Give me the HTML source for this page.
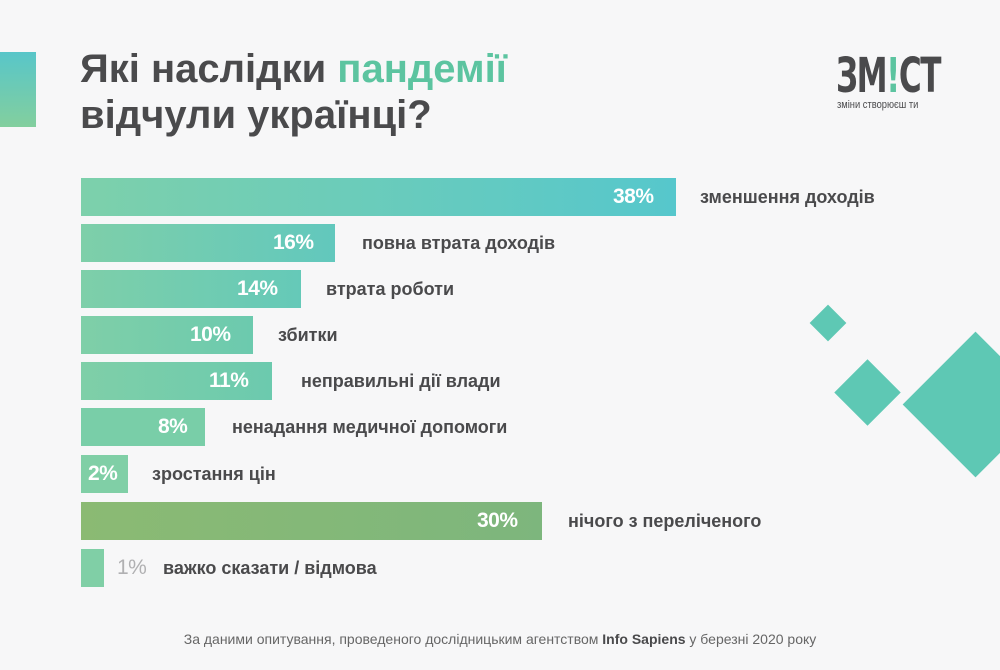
<!DOCTYPE html>
<html><head><meta charset="utf-8"><style>
body{margin:0;width:1000px;height:670px;overflow:hidden;background:#f7f7f8;font-family:"Liberation Sans","DejaVu Sans",sans-serif;position:relative}
.a{position:absolute}
.bar{position:absolute;left:81px;height:38px}
.pct{position:absolute;color:#fff;font-weight:bold;font-size:21px;line-height:38px;letter-spacing:-0.5px}
.lab{position:absolute;color:#4a4a4c;font-weight:bold;font-size:18px;line-height:38px}
.d{position:absolute;background:#5ec8b4;transform:rotate(45deg)}
</style></head><body>
<div class="a" style="left:0;top:52px;width:36px;height:75px;background:linear-gradient(#58c6c9,#83cf9e)"></div>
<div class="a" style="left:80px;top:46px;font-size:40px;font-weight:bold;color:#4a4a4c;line-height:46px">Які наслідки <span style="color:#5cc4a0">пандемії</span><br>відчули українці?</div>
<div class="a" style="left:836px;top:48px;font-size:48px;font-weight:bold;color:#4a4a4c;font-family:'DejaVu Sans Condensed','Liberation Sans Narrow',sans-serif;transform:scaleX(0.72);transform-origin:left;letter-spacing:-2px">ЗМ<span style="color:#5cc4a0">!</span>СТ</div>
<div class="a" style="left:837px;top:99px;font-size:11px;color:#4a4a4c;transform:scaleX(0.85);transform-origin:left">зміни створюєш ти</div>

<div class="d" style="left:815px;top:310px;width:26px;height:26px"></div>
<div class="d" style="left:844px;top:369px;width:47px;height:47px"></div>
<div class="d" style="left:924px;top:353px;width:103px;height:103px"></div>

<div class="bar" style="top:178px;width:595px;background:linear-gradient(90deg,#7dd0ab,#56c7cc)"></div>
<div class="pct" style="top:178px;left:613px">38%</div><div class="lab" style="top:178px;left:700px">зменшення доходів</div>
<div class="bar" style="top:224px;width:254px;background:linear-gradient(90deg,#7ecfa9,#62c8bd)"></div>
<div class="pct" style="top:224px;left:273px">16%</div><div class="lab" style="top:224px;left:362px">повна втрата доходів</div>
<div class="bar" style="top:270px;width:220px;background:linear-gradient(90deg,#7ecfa9,#65c9b8)"></div>
<div class="pct" style="top:270px;left:237px">14%</div><div class="lab" style="top:270px;left:326px">втрата роботи</div>
<div class="bar" style="top:316px;width:172px;background:linear-gradient(90deg,#7fcfa8,#6ccaae)"></div>
<div class="pct" style="top:316px;left:190px">10%</div><div class="lab" style="top:316px;left:278px">збитки</div>
<div class="bar" style="top:362px;width:191px;background:linear-gradient(90deg,#7fcfa8,#6ccaae)"></div>
<div class="pct" style="top:362px;left:209px">11%</div><div class="lab" style="top:362px;left:301px">неправильні дії влади</div>
<div class="bar" style="top:408px;width:124px;background:#79cea8"></div>
<div class="pct" style="top:408px;left:158px">8%</div><div class="lab" style="top:408px;left:232px">ненадання медичної допомоги</div>
<div class="bar" style="top:455px;width:47px;background:#80cfa6"></div>
<div class="pct" style="top:455px;left:88px">2%</div><div class="lab" style="top:455px;left:152px">зростання цін</div>
<div class="bar" style="top:502px;width:461px;background:linear-gradient(90deg,#8bba73,#7db67d)"></div>
<div class="pct" style="top:502px;left:477px">30%</div><div class="lab" style="top:502px;left:568px">нічого з переліченого</div>
<div class="bar" style="top:549px;width:23px;background:#80cfa6"></div>
<div class="pct" style="top:549px;left:117px;color:#b0b0b2;font-weight:normal">1%</div><div class="lab" style="top:549px;left:163px">важко сказати / відмова</div>

<div class="a" style="left:0;width:1000px;top:631px;text-align:center;font-size:14px;color:#666">За даними опитування, проведеного дослідницьким агентством <b style="color:#4a4a4c">Info Sapiens</b> у березні 2020 року</div>
</body></html>
